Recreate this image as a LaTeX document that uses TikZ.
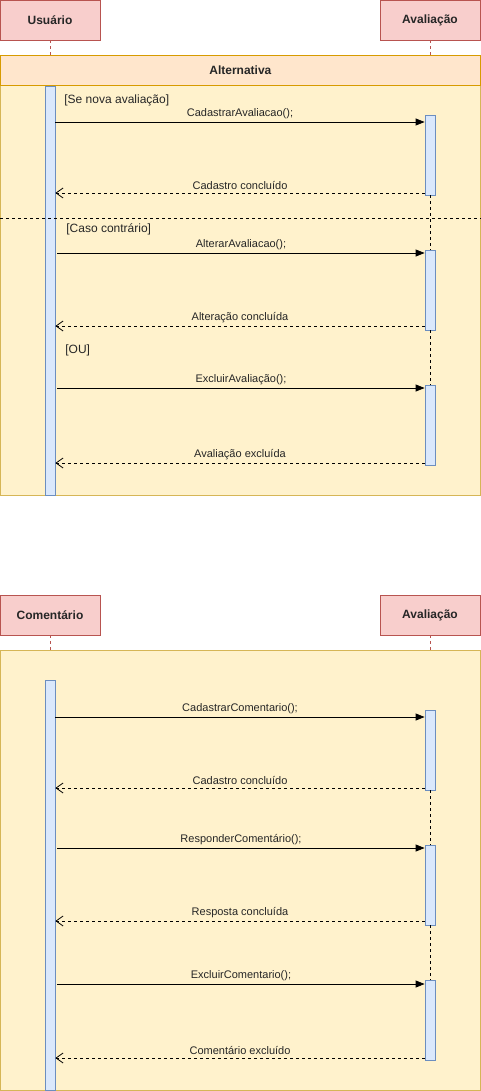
\documentclass[tikz,border=0pt]{standalone}
\usepackage{fontspec}
\setmainfont{Liberation Sans}
\usetikzlibrary{arrows.meta,positioning}
\definecolor{headfill}{HTML}{F8CECC}
\definecolor{headline}{HTML}{B85450}
\definecolor{framefill}{HTML}{FFF2CC}
\definecolor{frameline}{HTML}{D6B656}
\definecolor{titlefill}{HTML}{FFE6CC}
\definecolor{titleline}{HTML}{D79B00}
\definecolor{barfill}{HTML}{DAE8FC}
\definecolor{barline}{HTML}{6C8EBF}

\begin{document}
\begin{tikzpicture}[x=1pt,y=-1pt,line width=0.8pt,
    head/.style={draw=headline, fill=headfill, minimum width=100pt, minimum height=40pt, inner sep=0pt, font=\fontsize{12}{14}\selectfont\bfseries, text=black!85},
    lifeline/.style={draw=headline, dash pattern=on 3pt off 3pt},
    frame/.style={draw=frameline, fill=framefill, minimum width=480pt, inner sep=0pt, anchor=north west},
    bar/.style={draw=barline, fill=barfill, minimum width=10pt, inner sep=0pt},
    guard/.style={anchor=west, inner sep=0pt, font=\fontsize{12}{14}\selectfont, text=black!85},
    msg/.style={above, inner sep=3pt, font=\fontsize{11}{13}\selectfont, text=black!85},
    call/.style={-{Triangle[length=9pt,width=7pt]}},
    reply/.style={dash pattern=on 3pt off 3pt, -{Straight Barb[length=7pt,width=10pt]}},
    gap/.style={dash pattern=on 3pt off 3pt}]
  \useasboundingbox (0,0) rectangle (481,1091);

  % upper diagram: Usuario / Avaliacao
  \node[head] (usuario) at (50,20) {Usuário};
  \node[head] (aval1) at (430,20) {Avaliação};
  \node[frame, minimum height=440pt] (alt) at (0,55) {};
  \node[frame, draw=titleline, fill=titlefill, minimum height=30pt, font=\fontsize{12}{14}\selectfont\bfseries, text=black!85] (alttitle) at (0,55) {\makebox[480pt]{Alternativa}};
  \draw[lifeline] (usuario.south) -- (usuario.south |- alt.north);
  \draw[lifeline] (aval1.south) -- (aval1.south |- alt.north);

  \node[bar, minimum height=409pt] (actU) at (50,290.5) {};
  \node[bar, minimum height=80pt] (actA1) at (430,155) {};
  \node[bar, minimum height=80pt] (actA2) at (430,290) {};
  \node[bar, minimum height=80pt] (actA3) at (430,425) {};
  \draw[gap] (actA1.south) -- (actA2.north);
  \draw[gap] (actA2.south) -- (actA3.north);
  \draw[gap, line width=0.6pt] (alt.west |- 0,218) -- (alt.east |- 0,218);

  \node[guard] (g1) at (64,100) {[Se nova avaliação]};
  \node[guard] (g2) at (66,229) {[Caso contrário]};
  \node[guard] (g3) at (65,350) {[OU]};

  \draw[call] (actU.east |- 0,122) -- (actA1.west |- 0,122) node[msg, midway] {CadastrarAvaliacao();};
  \draw[reply] (actA1.west |- 0,193) -- (actU.east |- 0,193) node[msg, midway] {Cadastro concluído};
  \draw[call] ([xshift=2pt]actU.east |- 0,253) -- (actA2.west |- 0,253) node[msg, midway] {AlterarAvaliacao();};
  \draw[reply] (actA2.west |- 0,326) -- (actU.east |- 0,326) node[msg, midway] {Alteração concluída};
  \draw[call] ([xshift=2pt]actU.east |- 0,388) -- (actA3.west |- 0,388) node[msg, midway] {ExcluirAvaliação();};
  \draw[reply] (actA3.west |- 0,463) -- (actU.east |- 0,463) node[msg, midway] {Avaliação excluída};

  % lower diagram: Comentario / Avaliacao
  \node[head] (coment) at (50,615) {Comentário};
  \node[head] (aval2) at (430,615) {Avaliação};
  \node[frame, minimum height=440pt] (box) at (0,650) {};
  \draw[lifeline] (coment.south) -- (coment.south |- box.north);
  \draw[lifeline] (aval2.south) -- (aval2.south |- box.north);

  \node[bar, minimum height=410pt] (actC) at (50,885) {};
  \node[bar, minimum height=80pt] (actB1) at (430,750) {};
  \node[bar, minimum height=80pt] (actB2) at (430,885) {};
  \node[bar, minimum height=80pt] (actB3) at (430,1020) {};
  \draw[gap] (actB1.south) -- (actB2.north);
  \draw[gap] (actB2.south) -- (actB3.north);

  \draw[call] (actC.east |- 0,717) -- (actB1.west |- 0,717) node[msg, midway] {CadastrarComentario();};
  \draw[reply] (actB1.west |- 0,788) -- (actC.east |- 0,788) node[msg, midway] {Cadastro concluído};
  \draw[call] ([xshift=2pt]actC.east |- 0,848) -- (actB2.west |- 0,848) node[msg, midway] {ResponderComentário();};
  \draw[reply] (actB2.west |- 0,921) -- (actC.east |- 0,921) node[msg, midway] {Resposta concluída};
  \draw[call] ([xshift=2pt]actC.east |- 0,984) -- (actB3.west |- 0,984) node[msg, midway] {ExcluirComentario();};
  \draw[reply] (actB3.west |- 0,1058) -- (actC.east |- 0,1058) node[msg, midway] {Comentário excluído};
\end{tikzpicture}
\end{document}
